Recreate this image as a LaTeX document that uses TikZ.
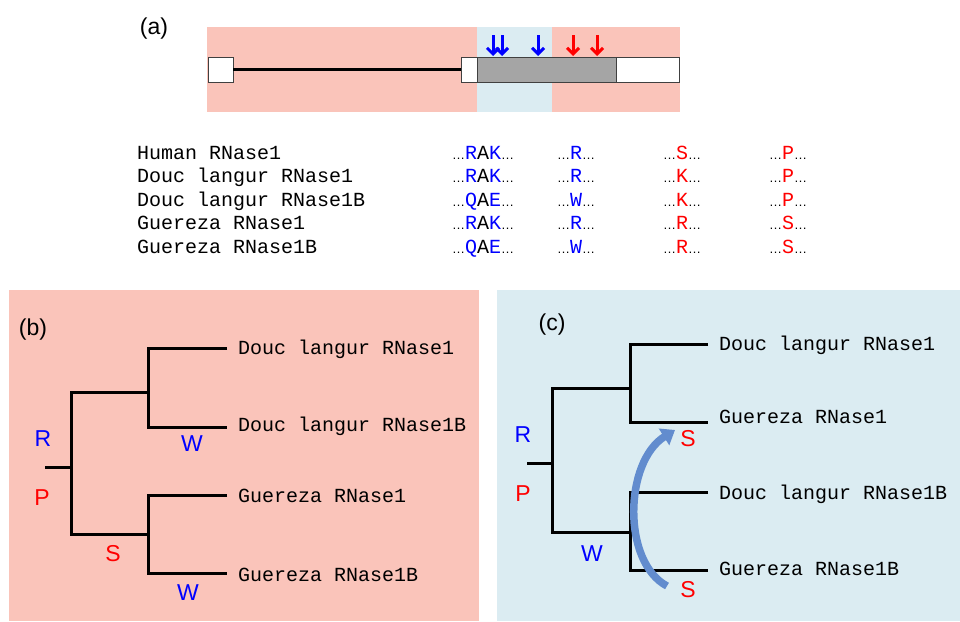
\documentclass[tikz,border=0pt]{standalone}
\usepackage{fontspec}
\setmainfont{Liberation Sans}
\newfontfamily\monof{Liberation Mono}
\newfontfamily\dotsf{Liberation Sans}
\usetikzlibrary{arrows.meta}
\definecolor{pinkbg}{RGB}{250,196,186}
\definecolor{bluebg}{RGB}{219,236,242}
\definecolor{grayseg}{RGB}{165,165,165}
\definecolor{seqblue}{RGB}{0,0,255}
\definecolor{seqred}{RGB}{255,0,0}
\definecolor{arrblue}{RGB}{98,140,206}
\newcommand{\el}{{\dotsf\fontsize{13}{13}\selectfont\color{black}…}}
\newcommand{\bl}[1]{\textcolor{seqblue}{#1}}
\newcommand{\rd}[1]{\textcolor{seqred}{#1}}
\begin{document}
\begin{tikzpicture}[x=1pt,y=-1pt,
  namelab/.style={font=\monof\fontsize{20}{20}\selectfont, anchor=base west, inner sep=0pt},
  seqlab/.style={font=\monof\fontsize{20}{20}\selectfont, anchor=base west, inner sep=0pt},
  mutlab/.style={font=\fontsize{23}{23}\selectfont, inner sep=0pt},
  panellab/.style={font=\fontsize{23}{23}\selectfont, inner sep=0pt},
  branch/.style={line width=3pt, line join=miter},
  exonbox/.style={draw=black!75, line width=0.8pt},
  siteblue/.style={draw=seqblue, line width=3pt, -{Straight Barb[length=6pt,width=12pt,line width=3pt]}},
  sitered/.style={draw=seqred, line width=3pt, -{Straight Barb[length=6pt,width=12pt,line width=3pt]}}
]
\useasboundingbox (0,0) rectangle (960,621);
\fill[white] (0,0) rectangle (960,621);

% ---------- (a) ----------
\node[panellab] (la) at (154,29) {(a)};
\fill[pinkbg] (207,27) rectangle (680,112);
\fill[bluebg] (477,27) rectangle (552,112);
\node[exonbox, fill=white, minimum width=25pt, minimum height=25pt, inner sep=0pt] (e1) at (220.5,69.5) {};
\node[exonbox, fill=white, minimum width=16pt, minimum height=25pt, inner sep=0pt] (e2) at (469,69.5) {};
\node[exonbox, fill=grayseg, minimum width=139pt, minimum height=25pt, inner sep=0pt] (e3) at (546.5,69.5) {};
\node[exonbox, fill=white, minimum width=63pt, minimum height=25pt, inner sep=0pt] (e4) at (647.5,69.5) {};
\draw[line width=2.6pt] (e1.east) -- (e2.west);
\foreach \xx/\st in {493/siteblue,502/siteblue,538/siteblue,573/sitered,597/sitered}{
  \coordinate (ta\xx) at (\xx,35);
  \coordinate (tb\xx) at (\xx,56);
  \draw[\st] (ta\xx) -- (tb\xx);
}

% table
\node[namelab] (n1) at (137,159) {Human RNase1};
\node[namelab] (n2) at (137,182.5) {Douc langur RNase1};
\node[namelab] (n3) at (137,206) {Douc langur RNase1B};
\node[namelab] (n4) at (137,229.5) {Guereza RNase1};
\node[namelab] (n5) at (137,253) {Guereza RNase1B};

\node[seqlab] (c11) at (452,159) {\el\bl{R}A\bl{K}\el};
\node[seqlab] (c12) at (452,182.5) {\el\bl{R}A\bl{K}\el};
\node[seqlab] (c13) at (452,206) {\el\bl{Q}A\bl{E}\el};
\node[seqlab] (c14) at (452,229.5) {\el\bl{R}A\bl{K}\el};
\node[seqlab] (c15) at (452,253) {\el\bl{Q}A\bl{E}\el};

\node[seqlab] (c21) at (557,159) {\el\bl{R}\el};
\node[seqlab] (c22) at (557,182.5) {\el\bl{R}\el};
\node[seqlab] (c23) at (557,206) {\el\bl{W}\el};
\node[seqlab] (c24) at (557,229.5) {\el\bl{R}\el};
\node[seqlab] (c25) at (557,253) {\el\bl{W}\el};

\node[seqlab] (c31) at (663,159) {\el\rd{S}\el};
\node[seqlab] (c32) at (663,182.5) {\el\rd{K}\el};
\node[seqlab] (c33) at (663,206) {\el\rd{K}\el};
\node[seqlab] (c34) at (663,229.5) {\el\rd{R}\el};
\node[seqlab] (c35) at (663,253) {\el\rd{R}\el};

\node[seqlab] (c41) at (769,159) {\el\rd{P}\el};
\node[seqlab] (c42) at (769,182.5) {\el\rd{P}\el};
\node[seqlab] (c43) at (769,206) {\el\rd{P}\el};
\node[seqlab] (c44) at (769,229.5) {\el\rd{S}\el};
\node[seqlab] (c45) at (769,253) {\el\rd{S}\el};

% ---------- (b) ----------
\fill[pinkbg] (9,290) rectangle (479,621);
\node[panellab] (lb) at (33,330) {(b)};
\coordinate (b0) at (45,467);
\coordinate (b1) at (71,467);
\coordinate (bu) at (148,392);
\coordinate (bl) at (148,534);
\coordinate (bL1) at (227,348);
\coordinate (bL2) at (227,427);
\coordinate (bL3) at (227,495);
\coordinate (bL4) at (227,573);
\draw[branch] (b0) -- (b1);
\draw[branch] (bu) -- (bu -| b1) -- (bl -| b1) -- (bl);
\draw[branch] (bL1) -- (bL1 -| bu) -- (bL2 -| bu) -- (bL2);
\draw[branch] (bL3) -- (bL3 -| bl) -- (bL4 -| bl) -- (bL4);
\node[namelab] (bt1) at (238,354) {Douc langur RNase1};
\node[namelab] (bt2) at (238,431) {Douc langur RNase1B};
\node[namelab] (bt3) at (238,502) {Guereza RNase1};
\node[namelab] (bt4) at (238,581) {Guereza RNase1B};
\node[mutlab, text=seqblue] (bR) at (43,439) {R};
\node[mutlab, text=seqred] (bP) at (42,498) {P};
\node[mutlab, text=seqred] (bS) at (113,554) {S};
\node[mutlab, text=seqblue] (bW1) at (192,444) {W};
\node[mutlab, text=seqblue] (bW2) at (188,593) {W};

% ---------- (c) ----------
\fill[bluebg] (497,290) rectangle (960,621);
\node[panellab] (lc) at (552,325) {(c)};
\coordinate (c0) at (527,463);
\coordinate (c1) at (552,463);
\coordinate (cu) at (630,388);
\coordinate (cl) at (630,532);
\coordinate (cL1) at (708,344);
\coordinate (cL2) at (708,422);
\coordinate (cL3) at (708,492);
\coordinate (cL4) at (708,570);
\draw[branch] (c0) -- (c1);
\draw[branch] (cu) -- (cu -| c1) -- (cl -| c1) -- (cl);
\draw[branch] (cL1) -- (cL1 -| cu) -- (cL2 -| cu) -- (cL2);
\draw[branch] (cL3) -- (cL3 -| cl) -- (cL4 -| cl) -- (cL4);
\node[namelab] (ct1) at (719,350) {Douc langur RNase1};
\node[namelab] (ct2) at (719,423) {Guereza RNase1};
\node[namelab] (ct3) at (719,499) {Douc langur RNase1B};
\node[namelab] (ct4) at (719,575) {Guereza RNase1B};
\node[mutlab, text=seqblue] (cR) at (523,435) {R};
\node[mutlab, text=seqred] (cP) at (523,494) {P};
\node[mutlab, text=seqblue] (cW) at (592,554) {W};
\node[mutlab, text=seqred] (cS1) at (688,439) {S};
\node[mutlab, text=seqred] (cS2) at (688,590) {S};
\coordinate (gcA) at (667,586);
\coordinate (gcB) at (675,430);
\draw[arrblue, line width=7.5pt, -{Triangle[width=19pt,length=13pt]}]
  (gcA) .. controls (622,562) and (624,462) .. (gcB);
\end{tikzpicture}
\end{document}
